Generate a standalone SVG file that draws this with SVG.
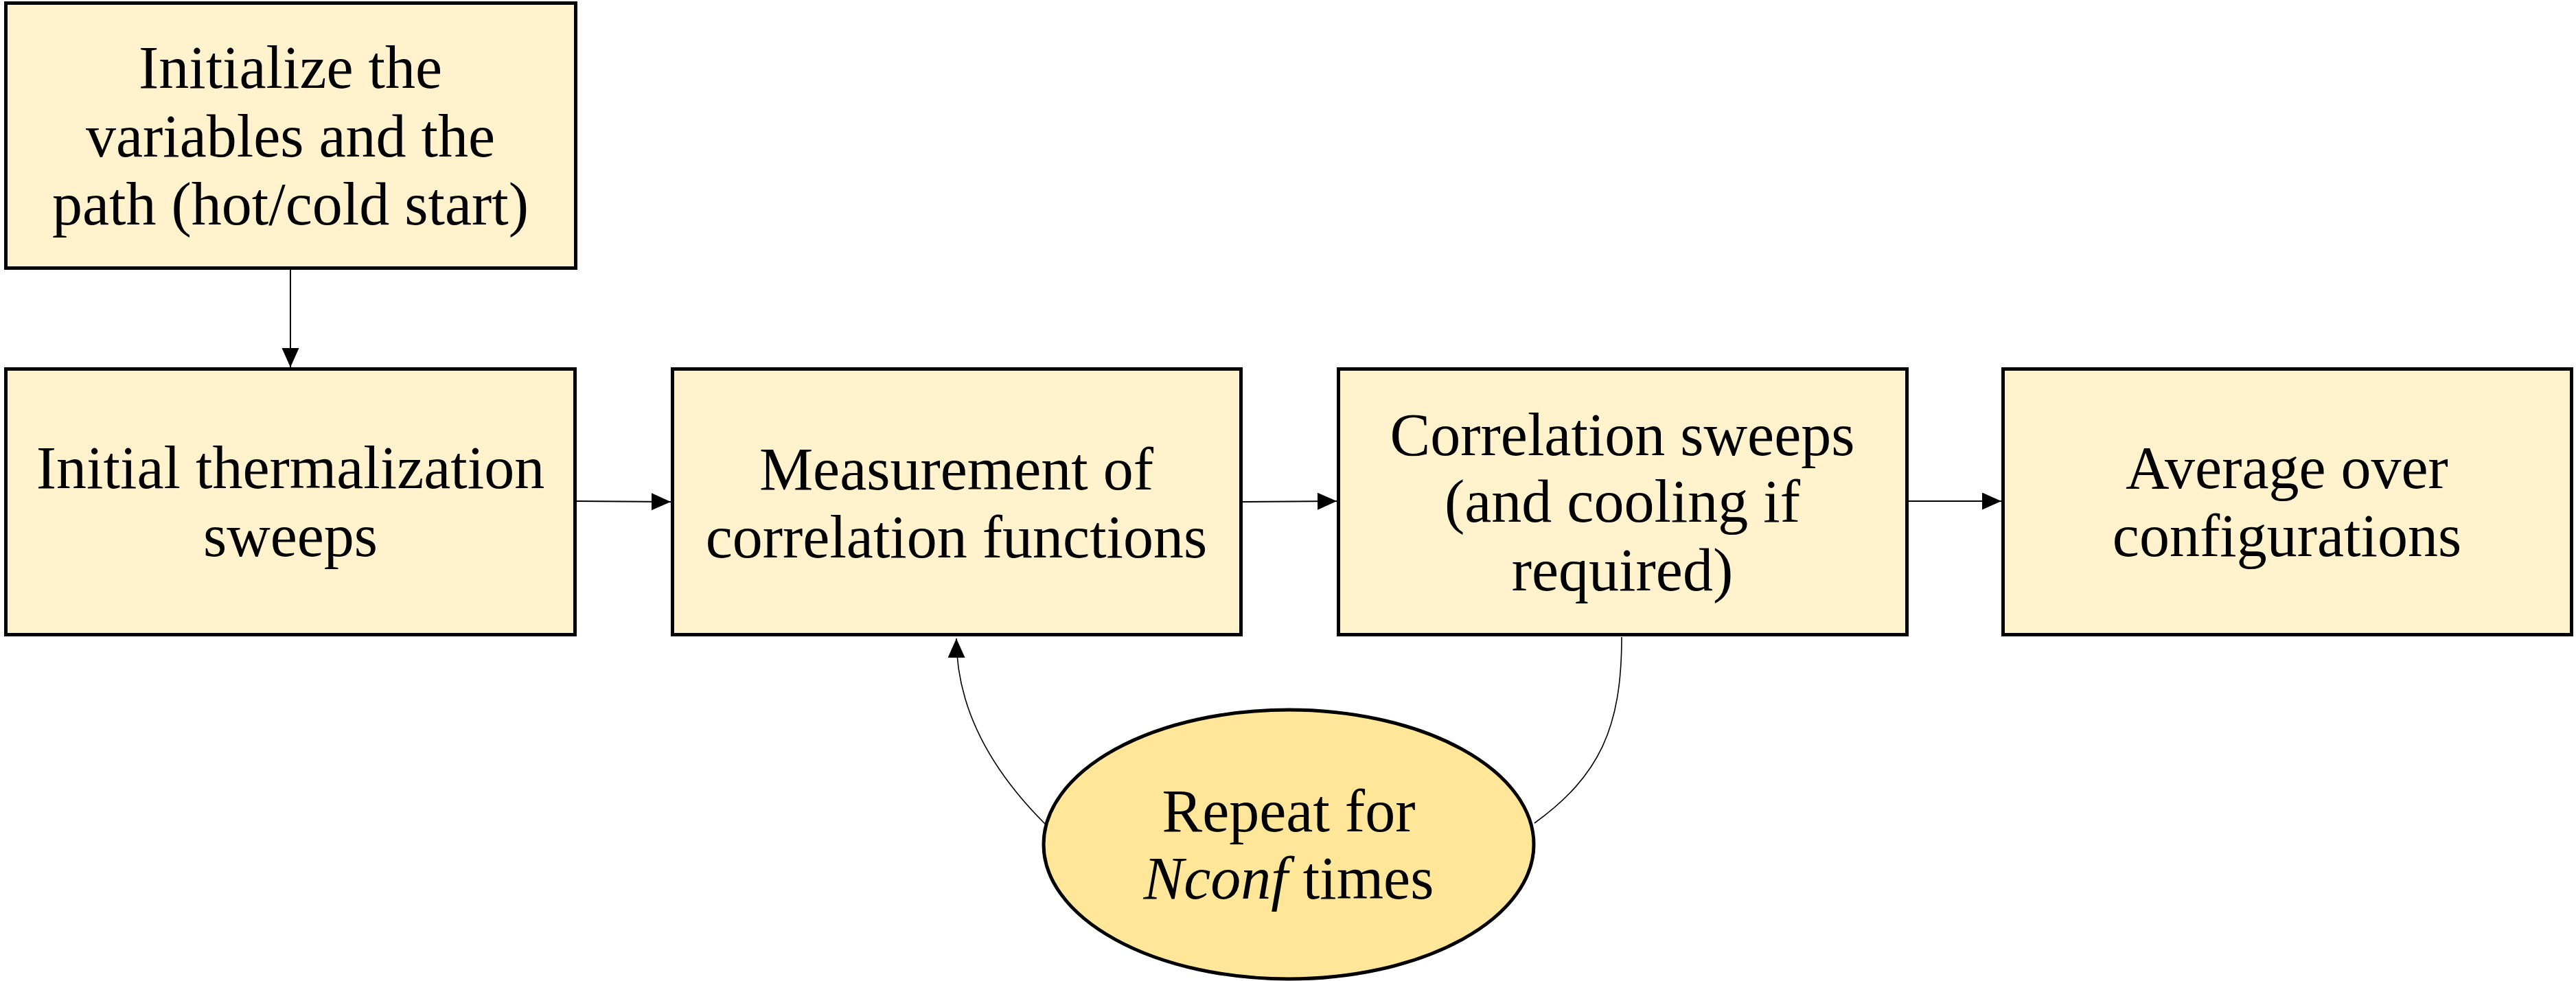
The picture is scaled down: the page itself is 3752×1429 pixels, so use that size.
<svg xmlns="http://www.w3.org/2000/svg" width="3752" height="1429" viewBox="0 0 3752 1429">
<style>
.box{fill:#FFF2CC;stroke:#000;stroke-width:5}
.ell{fill:#FFE699;stroke:#000;stroke-width:5}
.t{font-family:"Liberation Serif","Times New Roman",serif;font-size:88px;fill:#000;text-anchor:middle}
.c{fill:none;stroke:#000;stroke-width:2}
.cv{fill:none;stroke:#000;stroke-width:1.6}
</style>
<defs>
<marker id="ah" markerUnits="userSpaceOnUse" markerWidth="30" markerHeight="26" refX="28" refY="12.5" orient="auto">
<path d="M0,0 L28,12.5 L0,25 z" fill="#000"/>
</marker>
</defs>
<rect width="3752" height="1429" fill="#fff"/>
<g id="connectors">
<line class="c" x1="423" y1="393" x2="423" y2="535" marker-end="url(#ah)"/>
<line class="c" x1="840" y1="730" x2="977" y2="731" marker-end="url(#ah)"/>
<line class="c" x1="1810" y1="731" x2="1947" y2="730" marker-end="url(#ah)"/>
<line class="c" x1="2780" y1="730" x2="2915" y2="730" marker-end="url(#ah)"/>
<path class="cv" d="M1522,1200 Q1393,1071 1393,930" marker-end="url(#ah)"/>
<path class="cv" d="M2362,928 C2362,1060 2330,1130 2235,1199"/>
</g>
<g id="n1">
<rect class="box" x="8.5" y="4.5" width="830" height="386"/>
<text class="t" x="423" y="128">Initialize the</text>
<text class="t" x="423" y="228">variables and the</text>
<text class="t" x="423" y="327">path (hot/cold start)</text>
</g>
<g id="n2">
<rect class="box" x="8.5" y="537.5" width="829" height="387"/>
<text class="t" x="423" y="711">Initial thermalization</text>
<text class="t" x="423" y="810">sweeps</text>
</g>
<g id="n3">
<rect class="box" x="979.5" y="537.5" width="828" height="387"/>
<text class="t" x="1393" y="713">Measurement of</text>
<text class="t" x="1393" y="812">correlation functions</text>
</g>
<g id="n4">
<rect class="box" x="1949.5" y="537.5" width="828" height="387"/>
<text class="t" x="2363" y="663">Correlation sweeps</text>
<text class="t" x="2363" y="760">(and cooling if</text>
<text class="t" x="2363" y="860">required)</text>
</g>
<g id="n5">
<rect class="box" x="2917.5" y="537.5" width="828" height="387"/>
<text class="t" x="3331" y="711">Average over</text>
<text class="t" x="3331" y="810">configurations</text>
</g>
<g id="n6">
<ellipse class="ell" cx="1877" cy="1230" rx="357" ry="196"/>
<text class="t" x="1877" y="1211">Repeat for</text>
<text class="t" x="1877" y="1309"><tspan font-style="italic">Nconf</tspan> times</text>
</g>
</svg>
